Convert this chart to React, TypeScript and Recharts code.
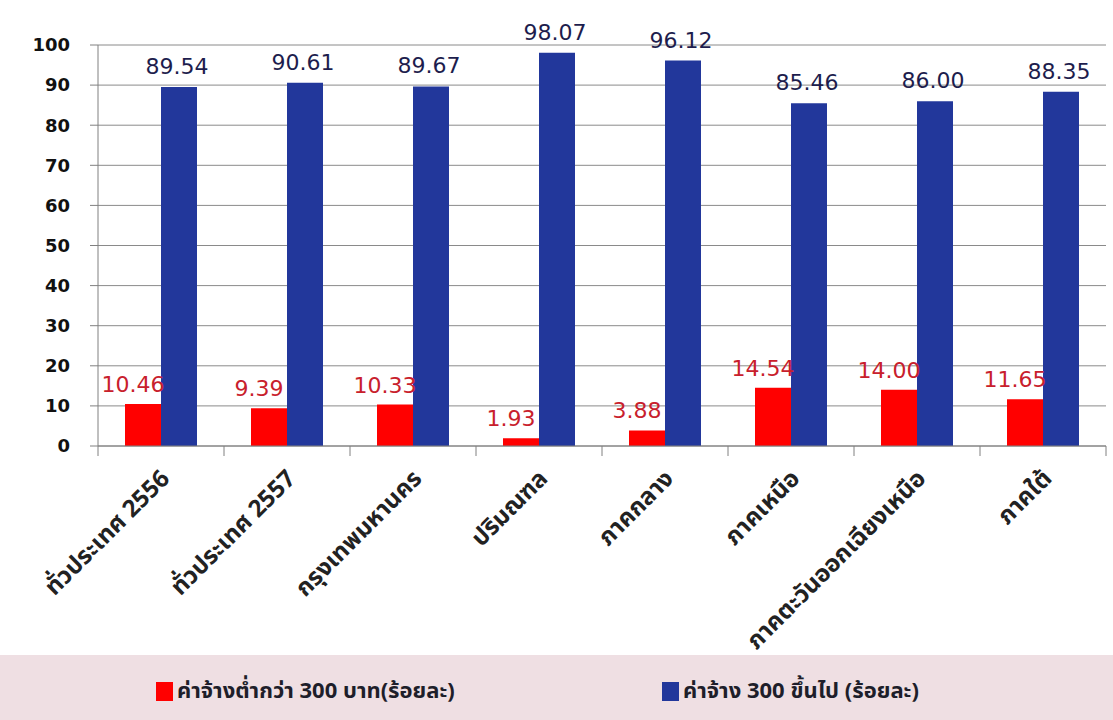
import React from "react";
import { BarChart, Bar, XAxis, YAxis, CartesianGrid, LabelList, Legend } from "recharts";

const categories = [
    "ทั่วประเทศ 2556",
    "ทั่วประเทศ 2557",
    "กรุงเทพมหานคร",
    "ปริมณฑล",
    "ภาคกลาง",
    "ภาคเหนือ",
    "ภาคตะวันออกเฉียงเหนือ",
    "ภาคใต้",
];
const below300 = [10.46, 9.39, 10.33, 1.93, 3.88, 14.54, 14.0, 11.65];
const above300 = [89.54, 90.61, 89.67, 98.07, 96.12, 85.46, 86.0, 88.35];
const yTicks = [0, 10, 20, 30, 40, 50, 60, 70, 80, 90, 100];
const seriesNames = ["ค่าจ้างต่ำกว่า 300 บาท(ร้อยละ)", "ค่าจ้าง 300 ขึ้นไป (ร้อยละ)"];

const RED = "#ff0000";
const BLUE = "#22379b";
const THAI = "Tahoma, 'Noto Sans Thai', 'Noto Sans', sans-serif";
const NUM = "'DejaVu Sans', Verdana, sans-serif";

const data = categories.map((name, i) => ({ name, low: below300[i], high: above300[i] }));

// category-boundary tick marks + rotated Thai label
const XTick = (props: any) => {
    const { x, y, payload, index, width, visibleTicksCount } = props;
    const band = width / visibleTicksCount;
    const ax = x + 10;
    const ay = y + 26;
    return (
        <g>
            <line x1={x - band / 2} x2={x - band / 2} y1={y - 8} y2={y + 2} stroke="#808080" />
            {index === visibleTicksCount - 1 && (
                <line x1={x + band / 2} x2={x + band / 2} y1={y - 8} y2={y + 2} stroke="#808080" />
            )}
            <text x={ax} y={ay} textAnchor="end" transform={`rotate(-45, ${ax}, ${ay})`}
                  fontFamily={THAI} fontSize={24} fontWeight="bold" fill="#222">
                {payload.value}
            </text>
        </g>
    );
};

const RedLabel = (props: any) => {
    const { x, y, width, value } = props;
    return (
        <text x={x + width / 2 - 10} y={y - 12} textAnchor="middle" fontFamily={NUM} fontSize={22} fill="#c8202c">
            {value.toFixed(2)}
        </text>
    );
};

const BlueLabel = (props: any) => {
    const { x, y, width, value } = props;
    return (
        <text x={x + width / 2 - 2} y={y - 13} textAnchor="middle" fontFamily={NUM} fontSize={22} fill="#1d1d4d">
            {value.toFixed(2)}
        </text>
    );
};

const LegendBand = () => (
    <div style={{ width: 1113, height: 65, background: "#efdfe3", position: "relative", fontFamily: THAI,
                  fontWeight: "bold", fontSize: 22, color: "#1e1e2a" }}>
        {[RED, BLUE].map((c, i) => (
            <div key={i} style={{ position: "absolute", left: i === 0 ? 156 : 662, top: 20, display: "flex", alignItems: "center" }}>
                <span style={{ width: 17, height: 19, background: c, display: "inline-block", marginRight: 4 }} />
                <span>{seriesNames[i]}</span>
            </div>
        ))}
    </div>
);

export default function App() {
    return (
        <div style={{ position: "absolute", left: 0, top: 0, width: 1113, height: 720, background: "#fff" }}>
            <BarChart width={1113} height={720} data={data} barGap={0} barSize={36}
                      margin={{ top: 45, right: 7, left: 0, bottom: 0 }}>
                <CartesianGrid vertical={false} stroke="#8a8a8a" />
                <XAxis dataKey="name" height={209} interval={0} tickLine={false} stroke="#808080"
                       tick={<XTick />} />
                <YAxis width={98} domain={[0, 100]} ticks={yTicks} stroke="#808080" tickSize={8} tickMargin={20}
                       tick={{ fontFamily: NUM, fontSize: 18, fontWeight: "bold", fill: "#111" }} />
                <Legend verticalAlign="bottom" height={65} wrapperStyle={{ left: 0, width: 1113 }}
                        content={<LegendBand />} />
                <Bar dataKey="low" name={seriesNames[0]} fill={RED} isAnimationActive={false}>
                    <LabelList dataKey="low" content={<RedLabel />} />
                </Bar>
                <Bar dataKey="high" name={seriesNames[1]} fill={BLUE} isAnimationActive={false}>
                    <LabelList dataKey="high" content={<BlueLabel />} />
                </Bar>
            </BarChart>
        </div>
    );
}
